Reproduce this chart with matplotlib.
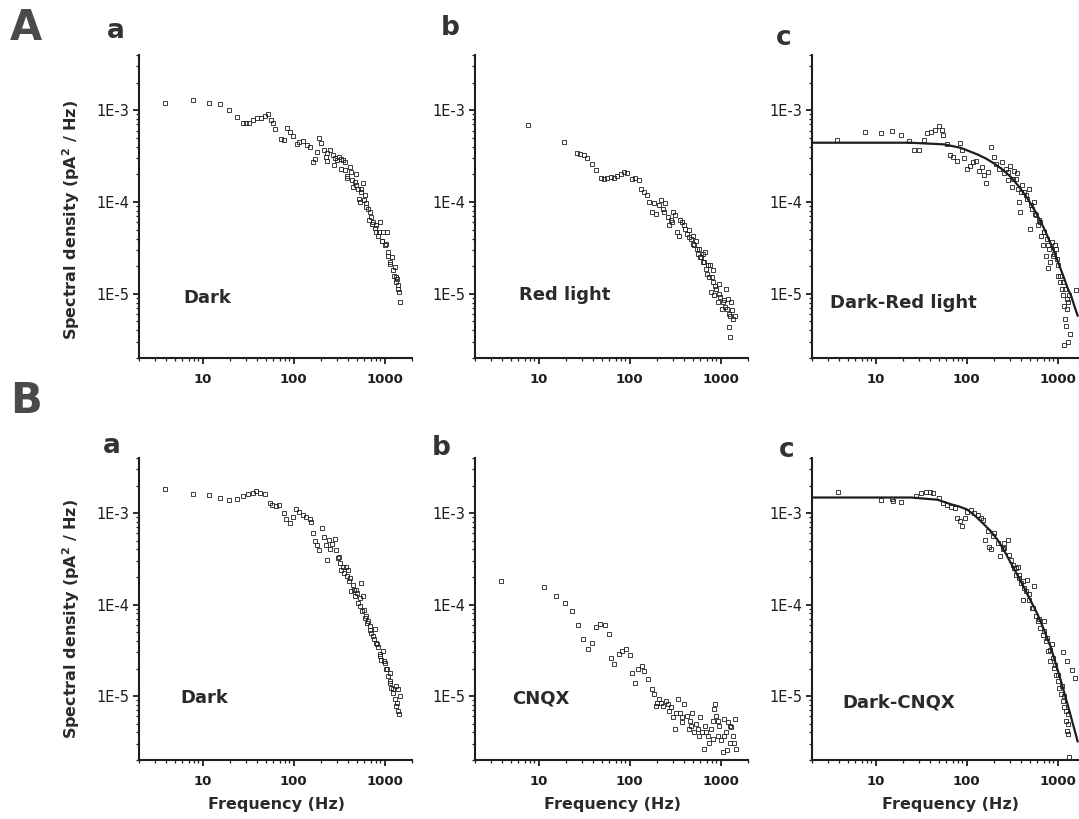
import matplotlib
matplotlib.use("Agg")
import matplotlib.pyplot as plt
from matplotlib.ticker import FixedLocator, LogLocator, NullFormatter, FixedFormatter

# ---------------- data ----------------
Aa_freq = [3.9, 7.8, 11.7, 15.7, 19.6, 23.7, 28, 30, 32, 36.2, 40, 43.8, 48.9, 51.8, 56.6, 59.5, 63.1,
           73.6, 79.4, 85, 90.6, 98.8, 108, 114, 127, 139, 151, 165, 171, 180, 191, 200, 214, 227, 235,
           253, 274, 280, 300, 318, 330, 346, 367, 387, 412, 430, 449, 468, 489, 511, 533, 556, 580, 605,
           630, 659, 688, 715, 750, 780, 812, 850, 885, 925, 965, 1005, 1050, 1100, 1145, 1195, 1245, 1300,
           1355, 1415, 1475, 1440,
           232, 282, 328, 363, 385, 441, 480, 522, 545, 587, 618, 673, 731, 796, 866, 942, 1025, 1088,
           1154, 1256, 1321, 1400, 1343]
Aa_psd = [1.21e-3, 1.3e-3, 1.21e-3, 1.16e-3, 1.0e-3, 8.5e-4, 7.3e-4, 7.3e-4, 7.3e-4, 7.8e-4, 8.2e-4, 8.2e-4,
          8.75e-4, 9.0e-4, 7.8e-4, 7.3e-4, 6.2e-4, 4.9e-4, 4.7e-4, 6.4e-4, 5.85e-4, 5.3e-4, 4.25e-4, 4.55e-4,
          4.6e-4, 4.17e-4, 4.0e-4, 2.7e-4, 2.93e-4, 3.54e-4, 5.0e-4, 4.43e-4, 3.7e-4, 3.12e-4, 2.79e-4,
          3.7e-4, 3.25e-4, 2.53e-4, 2.87e-4, 3.12e-4, 2.32e-4, 2.87e-4, 2.7e-4, 1.81e-4, 2.42e-4, 2.13e-4,
          1.46e-4, 1.66e-4, 2.0e-4, 1.4e-4, 1.0e-4, 1.3e-4, 1.6e-4, 1.19e-4, 9.7e-5, 8.5e-5, 7.7e-5, 6.9e-5,
          6.1e-5, 5.2e-5, 5.6e-5, 4.3e-5, 6.1e-5, 3.8e-5, 4.7e-5, 3.4e-5, 4.7e-5, 2.85e-5, 2.2e-5, 2.5e-5,
          1.8e-5, 1.97e-5, 1.46e-5, 1.24e-5, 8.1e-6, 1.05e-5,
          3.4e-4, 3.0e-4, 2.95e-4, 2.23e-4, 1.93e-4, 1.73e-4, 1.53e-4, 1.09e-4, 1.4e-4, 1.05e-4, 8.85e-5,
          6.3e-5, 5.8e-5, 4.7e-5, 4.7e-5, 3.8e-5, 3.5e-5, 2.6e-5, 2.1e-5, 1.58e-5, 1.34e-5, 1.13e-5, 1.52e-5]

Ab_freq = [7.6, 19, 26.4, 28.8, 31.3, 34.4, 38.7, 42.9, 47.9, 52, 56.7, 61.7, 67, 73, 79.6, 86.5, 94.4,
           105, 114, 127, 132, 144, 157, 164, 175, 186, 194, 208, 220, 230, 245, 261, 272, 284, 301, 316,
           330, 350, 375, 398, 423, 445, 472, 492, 513, 535, 559, 583, 609, 635, 663, 680, 692, 722, 753,
           786, 820, 834, 856, 893, 932, 955, 996, 1040, 1077, 1133, 1173, 1233, 1309, 1367, 1423, 1233, 1274,
           239, 296, 356, 408, 452, 500, 544, 593, 646, 708, 764, 804, 875, 970, 1055, 1129, 1197, 1270, 1337]
Ab_psd = [6.9e-4, 4.5e-4, 3.4e-4, 3.35e-4, 3.25e-4, 3.0e-4, 2.63e-4, 2.23e-4, 1.84e-4, 1.8e-4, 1.84e-4,
          1.88e-4, 1.84e-4, 1.93e-4, 2.0e-4, 2.14e-4, 2.05e-4, 1.77e-4, 1.84e-4, 1.73e-4, 1.4e-4, 1.29e-4,
          1.19e-4, 1.0e-4, 7.8e-5, 9.8e-5, 7.5e-5, 9.2e-5, 1.05e-4, 8.5e-5, 9.8e-5, 6.9e-5, 5.6e-5, 6.3e-5,
          7.8e-5, 7.2e-5, 4.7e-5, 4.3e-5, 6.1e-5, 5.6e-5, 4.5e-5, 4.9e-5, 4.0e-5, 4.3e-5, 3.4e-5, 3.8e-5,
          2.7e-5, 3.1e-5, 2.5e-5, 2.7e-5, 2.2e-5, 2.85e-5, 1.88e-5, 2.05e-5, 1.52e-5, 1.04e-5, 1.8e-5,
          1.34e-5, 9.6e-6, 1.13e-5, 8.1e-6, 1.29e-5, 9.2e-6, 6.9e-6, 8.5e-6, 1.13e-5, 6.9e-6, 6.0e-6, 8.1e-6,
          5.3e-6, 5.8e-6, 4.3e-6, 3.4e-6,
          7.7e-5, 6.1e-5, 6.3e-5, 5.1e-5, 4.2e-5, 3.5e-5, 3.1e-5, 2.5e-5, 2.2e-5, 1.65e-5, 2.04e-5, 1.52e-5,
          1.23e-5, 1.0e-5, 8.1e-6, 7.1e-6, 8.8e-6, 5.8e-6, 6.6e-6]

Ac_freq = [3.8, 7.6, 11.4, 15.3, 18.8, 23.3, 26.4, 30, 34, 37, 41, 44.7, 49.8, 53, 55.6, 61.5, 65.9, 71.7,
           78, 85, 88, 94, 102, 109, 119, 126, 137, 146, 156, 163, 170, 185, 198, 210, 228, 243, 255, 270,
           282, 301, 315, 334, 348, 363, 379, 389, 402, 430, 460, 488, 500, 522, 545, 578, 603, 629, 656,
           684, 714, 745, 778, 791, 832, 861, 906, 960, 984, 1018, 1071, 1110, 1138, 1167, 1206, 1237, 1268,
           1312, 1346, 1186, 1290, 1380, 1595,
           282, 320, 357, 396, 449, 509, 564, 646, 702, 764, 811, 883, 935, 1000, 1071, 1138, 1206, 1268]
Ac_psd = [4.7e-4, 5.8e-4, 5.6e-4, 5.9e-4, 5.4e-4, 4.6e-4, 3.7e-4, 3.7e-4, 4.7e-4, 5.6e-4, 5.8e-4, 6.1e-4,
          6.8e-4, 6.1e-4, 5.4e-4, 4.25e-4, 3.25e-4, 3.1e-4, 2.8e-4, 4.35e-4, 3.7e-4, 3.0e-4, 2.3e-4, 2.5e-4,
          2.7e-4, 2.8e-4, 2.2e-4, 2.4e-4, 1.96e-4, 1.6e-4, 2.15e-4, 4.0e-4, 3.1e-4, 2.63e-4, 2.3e-4, 2.7e-4,
          2.05e-4, 2.3e-4, 1.73e-4, 2.5e-4, 1.46e-4, 2.2e-4, 1.8e-4, 1.4e-4, 1.0e-4, 7.8e-5, 1.53e-4,
          1.29e-4, 1.09e-4, 1.4e-4, 5.1e-5, 8.5e-5, 1.0e-4, 7.2e-5, 5.6e-5, 6.3e-5, 4.3e-5, 3.4e-5, 4.7e-5,
          2.6e-5, 1.9e-5, 3.4e-5, 2.2e-5, 3.7e-5, 2.7e-5, 3.1e-5, 2.4e-5, 1.58e-5, 1.34e-5, 1.13e-5, 9.6e-6,
          7.4e-6, 5.3e-6, 4.5e-6, 6.9e-6, 8.1e-6, 9.6e-6, 2.8e-6, 3.0e-6, 3.65e-6, 1.09e-5,
          2.13e-4, 1.8e-4, 2.05e-4, 1.29e-4, 1.19e-4, 9.2e-5, 7.5e-5, 6.1e-5, 4.7e-5, 4.0e-5, 3.1e-5, 2.6e-5,
          3.4e-5, 2.04e-5, 1.58e-5, 1.34e-5, 1.13e-5, 8.8e-6]
Ac_fit_freq = [1.9, 4.5, 24, 56.5, 86, 131.5, 163, 201, 248, 306, 379, 468, 578, 714, 920, 1044, 1185,
               1290, 1403, 1527, 1660]
Ac_fit_psd = [4.43e-4, 4.43e-4, 4.43e-4, 4.25e-4, 3.9e-4, 3.3e-4, 2.98e-4, 2.63e-4, 2.26e-4, 1.88e-4,
              1.46e-4, 1.09e-4, 7.7e-5, 5.1e-5, 2.85e-5, 2.04e-5, 1.46e-5, 1.15e-5, 9.6e-6, 7.4e-6, 5.8e-6]

Ba_freq = [3.9, 7.8, 11.7, 15.6, 19.4, 23.8, 27.7, 31.5, 35.7, 38.9, 43, 48, 54.5, 58.3, 63.4, 68.9, 77.6,
           83, 90.4, 98.3, 105, 114, 126, 138, 150, 156, 163, 170, 180, 190, 207, 214, 225, 232, 244, 253,
           266, 282, 294, 307, 320, 334, 354, 372, 385, 405, 430, 448, 468, 489, 509, 531, 554, 578, 588,
           618, 656, 684, 714, 743, 776, 810, 844, 881, 920, 957, 1000, 1044, 1089, 1136, 1186, 1236, 1290,
           1346, 1403, 1463, 1322, 1156,
           315, 348, 395, 419, 456, 497, 540, 568, 603, 639, 695, 757, 824, 896, 975, 1061, 1153, 1236, 1367,
           1413, 1438]
Ba_psd = [1.82e-3, 1.6e-3, 1.57e-3, 1.48e-3, 1.38e-3, 1.42e-3, 1.53e-3, 1.6e-3, 1.67e-3, 1.73e-3, 1.67e-3,
          1.6e-3, 1.3e-3, 1.24e-3, 1.2e-3, 1.24e-3, 1.0e-3, 8.7e-4, 7.7e-4, 9.1e-4, 1.12e-3, 1.03e-3, 9.5e-4,
          9.1e-4, 8.7e-4, 8.0e-4, 6.1e-4, 5.0e-4, 4.5e-4, 3.95e-4, 6.8e-4, 5.5e-4, 4.5e-4, 3.1e-4, 5.1e-4,
          4.1e-4, 4.6e-4, 5.2e-4, 3.95e-4, 3.2e-4, 2.84e-4, 2.4e-4, 2.2e-4, 2.6e-4, 2.03e-4, 1.8e-4, 1.4e-4,
          1.65e-4, 1.23e-4, 1.46e-4, 1.04e-4, 1.18e-4, 1.72e-4, 1.25e-4, 8.8e-5, 7.5e-5, 6.6e-5, 5.8e-5,
          4.9e-5, 4.5e-5, 5.4e-5, 3.8e-5, 3.4e-5, 2.9e-5, 2.5e-5, 3.1e-5, 2.3e-5, 1.96e-5, 1.66e-5, 1.47e-5,
          1.24e-5, 1.09e-5, 9.3e-6, 7.8e-6, 6.9e-6, 1.0e-5, 1.3e-5, 1.8e-5,
          3.35e-4, 2.6e-4, 2.4e-4, 1.95e-4, 1.46e-4, 1.34e-4, 9.6e-5, 8.5e-5, 7.2e-5, 6.3e-5, 5.3e-5, 4.2e-5,
          3.7e-5, 2.74e-5, 2.42e-5, 1.96e-5, 1.4e-5, 1.19e-5, 8.5e-6, 1.19e-5, 6.4e-6]

Bb_freq = [3.86, 11.6, 15.5, 19.3, 23.3, 27.1, 30.5, 35, 38.7, 42.9, 47.8, 54.3, 59, 63.2, 67.1, 76.2, 83,
           91.9, 100, 107, 114.5, 125, 136, 144, 161, 175, 186, 194, 208, 220, 233, 250, 268, 284, 301, 317,
           336, 357, 375, 398, 423, 445, 460, 484, 513, 535, 573, 593, 625, 652, 680, 722, 753, 786, 820,
           856, 893, 932, 971, 1014, 1059, 1102, 1151, 1202, 1253, 1306, 1365, 1422, 1459, 875,
           202, 261, 322, 381, 472, 559, 692, 820, 932, 1102, 1253, 1388, 1169]
Bb_psd = [1.82e-4, 1.55e-4, 1.25e-4, 1.04e-4, 8.5e-5, 6.0e-5, 4.2e-5, 3.24e-5, 3.8e-5, 5.7e-5, 6.2e-5,
          6.0e-5, 4.8e-5, 2.6e-5, 2.22e-5, 2.86e-5, 3.1e-5, 3.24e-5, 2.8e-5, 1.78e-5, 1.4e-5, 1.96e-5,
          2.13e-5, 1.88e-5, 1.53e-5, 1.19e-5, 1.05e-5, 7.8e-6, 9.3e-6, 8.5e-6, 7.8e-6, 8.9e-6, 6.9e-6,
          7.5e-6, 5.9e-6, 4.4e-6, 9.3e-6, 6.6e-6, 5.2e-6, 8.2e-6, 6.1e-6, 4.4e-6, 5.4e-6, 6.6e-6, 4.0e-6,
          5.0e-6, 3.7e-6, 5.9e-6, 4.0e-6, 2.65e-6, 4.75e-6, 3.7e-6, 3.1e-6, 4.4e-6, 5.4e-6, 7.2e-6, 6.1e-6,
          3.7e-6, 4.75e-6, 3.27e-6, 2.44e-6, 5.6e-6, 4.0e-6, 5.2e-6, 3.1e-6, 4.56e-6, 3.7e-6, 5.6e-6,
          2.65e-6, 8.2e-6,
          8.5e-6, 8.2e-6, 6.6e-6, 5.9e-6, 4.75e-6, 4.4e-6, 4.0e-6, 3.4e-6, 5.4e-6, 3.7e-6, 4.75e-6, 3.1e-6,
          2.55e-6]

Bc_freq = [3.9, 11.4, 15.3, 15.7, 19.2, 27.5, 31.3, 35.5, 39.7, 43.2, 49.8, 55.6, 61.5, 68.2, 74.1, 79.3,
           84.8, 87.9, 95.5, 102, 111, 121, 132, 143, 153, 158, 170, 177, 185, 193, 201, 219, 234, 248, 259,
           282, 294, 307, 328, 348, 363, 379, 396, 413, 430, 460, 488, 519, 555, 578, 603, 644, 684, 714,
           745, 791, 832, 861, 906, 960, 1000, 1044, 1089, 1136, 1185, 1237, 1268, 1312, 1136, 1268, 1430,
           1550, 1325,
           259, 320, 348, 379, 412, 449, 489, 531, 629, 702, 764, 832, 883, 935, 1018, 1109, 1167, 1237, 1290,
           1312]
Bc_psd = [1.7e-3, 1.4e-3, 1.43e-3, 1.34e-3, 1.32e-3, 1.52e-3, 1.65e-3, 1.72e-3, 1.7e-3, 1.65e-3, 1.46e-3,
          1.29e-3, 1.23e-3, 1.18e-3, 1.13e-3, 8.8e-4, 8.1e-4, 7.2e-4, 8.9e-4, 1.04e-3, 1.09e-3, 1.0e-3,
          9.6e-4, 8.8e-4, 8.5e-4, 5.1e-4, 6.3e-4, 4.3e-4, 4.0e-4, 5.6e-4, 6.1e-4, 4.7e-4, 3.37e-4, 4.0e-4,
          4.7e-4, 5.1e-4, 3.5e-4, 3.1e-4, 2.5e-4, 2.12e-4, 2.6e-4, 1.95e-4, 1.72e-4, 1.13e-4, 1.52e-4,
          1.86e-4, 1.29e-4, 9.2e-5, 1.58e-4, 7.5e-5, 6.6e-5, 5.6e-5, 4.7e-5, 6.6e-5, 4.0e-5, 3.1e-5, 2.4e-5,
          3.7e-5, 2.04e-5, 1.72e-5, 1.46e-5, 1.23e-5, 1.04e-5, 8.8e-6, 7.5e-6, 5.3e-6, 4.15e-6, 6.3e-6,
          3.0e-5, 2.4e-5, 1.95e-5, 1.58e-5, 2.13e-6,
          4.15e-4, 2.73e-4, 2.5e-4, 2.12e-4, 1.8e-4, 1.4e-4, 1.13e-4, 9.2e-5, 6.9e-5, 5.1e-5, 4.3e-5, 3.2e-5,
          2.6e-5, 2.2e-5, 1.72e-5, 1.29e-5, 1.0e-5, 6.9e-6, 4.9e-6, 3.8e-6]
Bc_fit_freq = [1.9, 10.4, 24.3, 47.8, 67, 82.8, 102, 126, 156, 185, 219, 259, 306, 363, 430, 509, 603,
               714, 845, 960, 1089, 1346, 1660]
Bc_fit_psd = [1.48e-3, 1.48e-3, 1.48e-3, 1.4e-3, 1.25e-3, 1.18e-3, 1.09e-3, 9.2e-4, 7.5e-4, 6.3e-4,
              5.1e-4, 3.88e-4, 2.85e-4, 2.09e-4, 1.52e-4, 1.09e-4, 7.8e-5, 5.2e-5, 3.37e-5, 2.22e-5,
              1.46e-5, 6.9e-6, 3.2e-6]

x_ticks = [10, 100, 1000]
x_tick_labels = ["10", "100", "1000"]
y_ticks = [1e-5, 1e-4, 1e-3]
y_tick_labels = ["1E-5", "1E-4", "1E-3"]
x_limits = (2, 2000)
y_limits = (2e-6, 4e-3)

panel_names = ["Dark", "Red light", "Dark-Red light", "Dark", "CNQX", "Dark-CNQX"]
row_letters = ["A", "B"]
col_letters = ["a", "b", "c"]
y_label = "Spectral density (pA$^{2}$ / Hz)"
x_label = "Frequency (Hz)"

# ---------------- figure ----------------
W, H = 1079, 819
fig = plt.figure(figsize=(W / 100, H / 100), dpi=100)
ink = "#1e1e1e"
plt.rcParams["mathtext.default"] = "regular"


def rect(left, top, width, bottom):
    return [left / W, 1 - bottom / H, width / W, (bottom - top) / H]


lefts = [139, 475, 812]
rows = [(55, 358), (458, 760)]
series = [
    (Aa_freq, Aa_psd, None, None),
    (Ab_freq, Ab_psd, None, None),
    (Ac_freq, Ac_psd, Ac_fit_freq, Ac_fit_psd),
    (Ba_freq, Ba_psd, None, None),
    (Bb_freq, Bb_psd, None, None),
    (Bc_freq, Bc_psd, Bc_fit_freq, Bc_fit_psd),
]
label_pos = [(183, 303), (519, 300), (830, 308), (180, 703), (512, 703), (842, 707)]

for r, (top, bottom) in enumerate(rows):
    for c, left in enumerate(lefts):
        k = r * 3 + c
        ax = fig.add_axes(rect(left, top, 273, bottom))
        fx, fy, lx, ly = series[k]
        ax.set_xscale("log")
        ax.set_yscale("log")
        if lx is not None:
            ax.plot(lx, ly, color=ink, lw=1.6, zorder=2)
        ax.plot(fx, fy, ls="none", marker="s", ms=2.6, mfc="none", mec=ink, mew=0.6, zorder=3)
        ax.set_xlim(*x_limits)
        ax.set_ylim(*y_limits)
        for s in ["top", "right"]:
            ax.spines[s].set_visible(False)
        for s in ["left", "bottom"]:
            ax.spines[s].set_linewidth(1.5)
            ax.spines[s].set_color(ink)
        ax.xaxis.set_major_locator(FixedLocator(x_ticks))
        ax.xaxis.set_major_formatter(FixedFormatter(x_tick_labels))
        ax.yaxis.set_major_locator(FixedLocator(y_ticks))
        ax.yaxis.set_major_formatter(FixedFormatter(y_tick_labels))
        ax.xaxis.set_minor_locator(LogLocator(base=10, subs=range(2, 10), numticks=20))
        ax.yaxis.set_minor_locator(LogLocator(base=10, subs=range(2, 10), numticks=20))
        ax.xaxis.set_minor_formatter(NullFormatter())
        ax.yaxis.set_minor_formatter(NullFormatter())
        ax.tick_params(which="major", direction="out", length=4, width=1.3, color=ink)
        ax.tick_params(which="minor", direction="out", length=2.5, width=0.9, color=ink)
        ax.tick_params(axis="x", which="major", pad=7, labelsize=9.5, labelcolor=ink)
        ax.tick_params(axis="y", which="major", pad=3, labelsize=10.5, labelcolor=ink)
        for t in ax.get_xticklabels():
            t.set_fontweight("bold")
        ax.patch.set_alpha(0)
        tx, ty = label_pos[k]
        fig.text(tx / W, 1 - ty / H, panel_names[k], fontsize=13, fontweight="bold",
                 color="#2a2a2a", ha="left", va="baseline")

# panel letters
fig.text(10 / W, 1 - 40 / H, row_letters[0], fontsize=30, fontweight="bold", color="#4a4a4a",
         ha="left", va="baseline")
fig.text(10 / W, 1 - 413 / H, row_letters[1], fontsize=30, fontweight="bold", color="#4a4a4a",
         ha="left", va="baseline")
for (x, y), s in zip([(107, 38), (441, 35), (776, 45)], col_letters):
    fig.text(x / W, 1 - y / H, s, fontsize=19, fontweight="bold", color="#333333",
             ha="left", va="baseline")
for (x, y), s in zip([(103, 453), (432, 455), (779, 457)], col_letters):
    fig.text(x / W, 1 - y / H, s, fontsize=19, fontweight="bold", color="#333333",
             ha="left", va="baseline")

# axis titles
for yc in [220, 619]:
    fig.text(71 / W, 1 - yc / H, y_label, rotation=90, fontsize=11.5, fontweight="bold",
             color="#2a2a2a", ha="center", va="center")
for xc in [277, 612, 950]:
    fig.text(xc / W, 1 - 805 / H, x_label, fontsize=11.5, fontweight="bold",
             color="#2a2a2a", ha="center", va="center")

fig.savefig("out.png", dpi=100)
